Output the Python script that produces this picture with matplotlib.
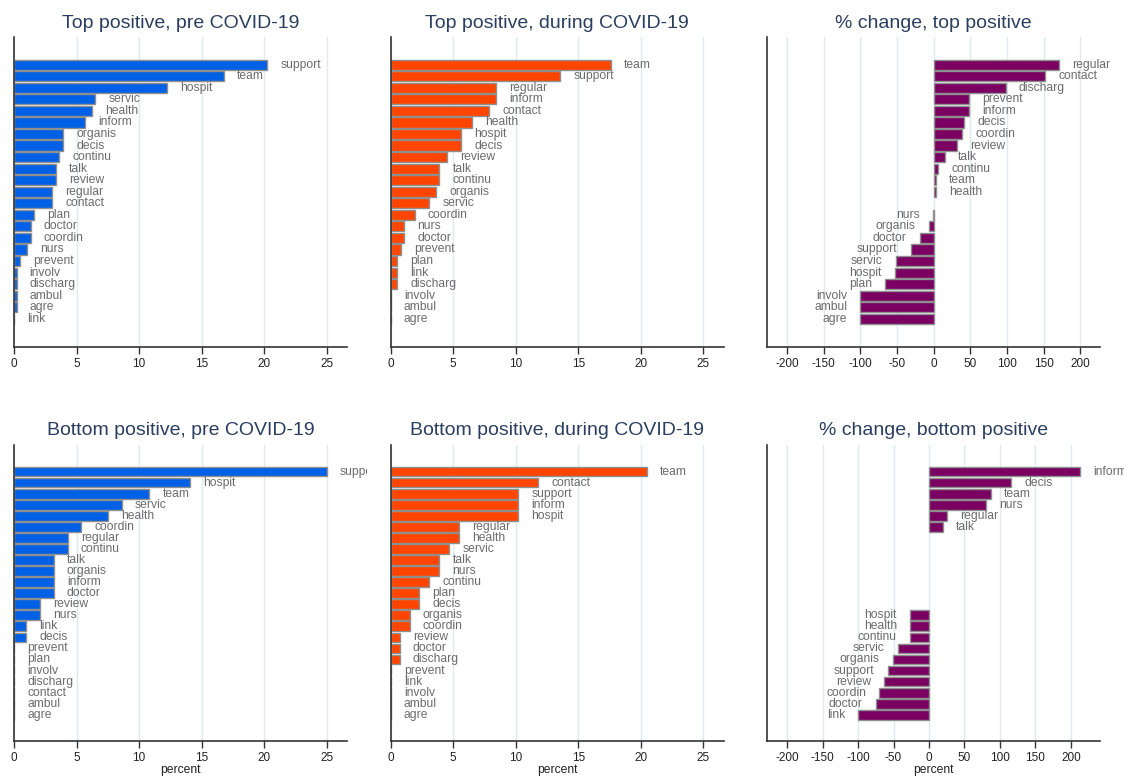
import numpy as np
import matplotlib
matplotlib.use("Agg")
import matplotlib.pyplot as plt
from matplotlib.transforms import Bbox, TransformedBbox

plt.rcParams['font.family'] = ['Liberation Sans', 'DejaVu Sans']
plt.rcParams['axes.unicode_minus'] = False

# ---- Top positive terms ----
top_pre_words = ["support", "team", "hospit", "servic", "health", "inform", "organis",
                 "decis", "continu", "talk", "review", "regular", "contact", "plan",
                 "doctor", "coordin", "nurs", "prevent", "involv", "discharg", "ambul",
                 "agre", "link"]
top_pre_vals = [20.25, 16.81, 12.22, 6.51, 6.24, 5.66, 3.92, 3.92, 3.63, 3.35, 3.35,
                3.07, 3.07, 1.60, 1.33, 1.33, 1.04, 0.48, 0.2, 0.2, 0.2, 0.2, 0.0]

top_dur_words = ["team", "support", "regular", "inform", "contact", "health", "hospit",
                 "decis", "review", "talk", "continu", "organis", "servic", "coordin",
                 "nurs", "doctor", "prevent", "plan", "link", "discharg", "involv",
                 "ambul", "agre"]
top_dur_vals = [17.59, 13.57, 8.45, 8.45, 7.89, 6.48, 5.62, 5.62, 4.50, 3.90, 3.90,
                3.62, 3.07, 1.92, 1.07, 1.07, 0.80, 0.53, 0.53, 0.53, 0.0, 0.0, 0.0]

top_chg_words = ["regular", "contact", "discharg", "prevent", "inform", "decis",
                 "coordin", "review", "talk", "continu", "team", "health", "link",
                 "nurs", "organis", "doctor", "support", "servic", "hospit", "plan",
                 "involv", "ambul", "agre"]
top_chg_vals = [171.8, 152.6, 98.4, 48.3, 48.3, 41.5, 39.2, 32.3, 15.5, 6.4, 3.6, 3.6,
                np.nan, -1.4, -6.4, -19.1, -31.4, -51.5, -52.8, -66.1, -100, -100, -100]

# ---- Bottom positive terms ----
bot_pre_words = ["support", "hospit", "team", "servic", "health", "coordin", "regular",
                 "continu", "talk", "organis", "inform", "doctor", "review", "nurs",
                 "link", "decis", "prevent", "plan", "involv", "discharg", "contact",
                 "ambul", "agre"]
bot_pre_vals = [25.0, 14.11, 10.83, 8.64, 7.55, 5.39, 4.30, 4.30, 3.18, 3.18, 3.18,
                3.18, 2.08, 2.08, 0.99, 0.99, 0, 0, 0, 0, 0, 0, 0]

bot_dur_words = ["team", "contact", "support", "inform", "hospit", "regular", "health",
                 "servic", "talk", "nurs", "continu", "plan", "decis", "organis",
                 "coordin", "review", "doctor", "discharg", "prevent", "link", "involv",
                 "ambul", "agre"]
bot_dur_vals = [20.47, 11.78, 10.21, 10.21, 10.21, 5.46, 5.46, 4.69, 3.89, 3.89, 3.09,
                2.29, 2.29, 1.52, 1.52, 0.72, 0.72, 0.72, 0, 0, 0, 0, 0]

bot_chg_words = ["inform", "decis", "team", "nurs", "regular", "talk", "prevent", "plan",
                 "involv", "discharg", "contact", "ambul", "agre", "hospit", "health",
                 "continu", "servic", "organis", "support", "review", "coordin",
                 "doctor", "link"]
bot_chg_vals = [213, 116, 87.5, 80, 26, 19.3, np.nan, np.nan, np.nan, np.nan, np.nan,
                np.nan, np.nan, -26.8, -26.8, -26.8, -44.2, -50.8, -58.4, -63.1, -70.6,
                -75.3, -100]

titles = [["Top positive, pre COVID-19", "Top positive, during COVID-19",
           "% change, top positive"],
          ["Bottom positive, pre COVID-19", "Bottom positive, during COVID-19",
           "% change, bottom positive"]]

BLUE = "#0060e6"
ORANGE = "#ff4500"
PURPLE = "#7a0062"
EDGE = "#8f8f8f"
LABEL = "#6c6c6c"
TITLE = "#2a3f5f"
GRID = "#dfe9f0"
AXIS = "#333333"

W, H = 1124, 776
fig = plt.figure(figsize=(W / 100, H / 100), dpi=100)

col_left = [14, 390.7, 767.3]
col_width = 333
row_top = [37, 445]
row_bottom = [346.5, 741.3]
title_base = [28, 435]
clip_right = [367, 743, W]

panels = [
    [(top_pre_words, top_pre_vals, BLUE), (top_dur_words, top_dur_vals, ORANGE),
     (top_chg_words, top_chg_vals, PURPLE)],
    [(bot_pre_words, bot_pre_vals, BLUE), (bot_dur_words, bot_dur_vals, ORANGE),
     (bot_chg_words, bot_chg_vals, PURPLE)],
]
chg_xlim = [(-227, 227.5), (-228, 241.5)]

for r in range(2):
    for c in range(3):
        words, vals, color = panels[r][c]
        vals = np.asarray(vals, dtype=float)
        left = col_left[c] / W
        bottom = 1 - row_bottom[r] / H
        height = (row_bottom[r] - row_top[r]) / H
        ax = fig.add_axes([left, bottom, col_width / W, height])

        y = np.arange(len(words))
        ok = ~np.isnan(vals)
        ax.barh(y[ok], vals[ok], height=0.88, color=color, edgecolor=EDGE,
                linewidth=1.0, zorder=2)

        clip = TransformedBbox(
            Bbox([[0, 0], [clip_right[c] / W, 1]]), fig.transFigure)
        for yi, w, v in zip(y, words, vals):
            if np.isnan(v):
                continue
            neg = v < 0
            t = ax.annotate(w, xy=(v, yi), xytext=(-9.4 if neg else 9.4, 0),
                            textcoords="offset points",
                            ha="right" if neg else "left", va="center",
                            fontsize=8.7, color=LABEL, annotation_clip=False,
                            zorder=3)
            t.set_clip_box(clip)
            t.set_clip_on(True)

        ax.set_ylim(len(words) - 1 + 2.4, -2.4)
        if c < 2:
            ax.set_xlim(0, 26.64)
            ax.set_xticks([0, 5, 10, 15, 20, 25])
        else:
            ax.set_xlim(*chg_xlim[r])
            ax.set_xticks([-200, -150, -100, -50, 0, 50, 100, 150, 200])
        ax.set_yticks([])
        ax.grid(axis="x", color=GRID, linewidth=1.0, zorder=0)
        ax.set_axisbelow(True)
        for s in ("top", "right"):
            ax.spines[s].set_visible(False)
        for s in ("left", "bottom"):
            ax.spines[s].set_color(AXIS)
            ax.spines[s].set_linewidth(1.2)
        ax.tick_params(axis="x", length=5, width=1, color=AXIS, labelsize=8.5,
                       labelcolor="#222222", pad=3)
        if r == 1:
            ax.set_xlabel("percent", fontsize=8.7, color="#222222", labelpad=0)

        fig.text((col_left[c] + col_width / 2) / W, 1 - title_base[r] / H,
                 titles[r][c], ha="center", va="baseline", fontsize=14,
                 color=TITLE)

fig.savefig("out.png", dpi=100)
